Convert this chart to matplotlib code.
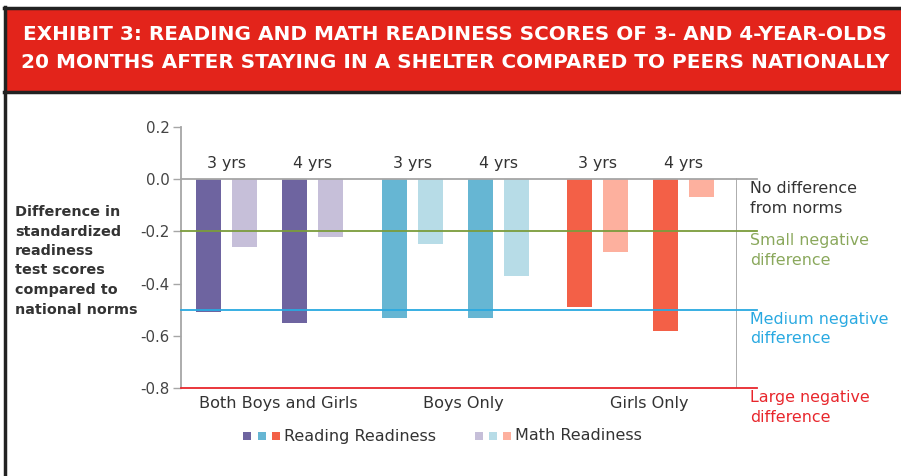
import matplotlib
matplotlib.use('Agg')
import matplotlib.pyplot as plt
from matplotlib.patches import Rectangle
import numpy as np

plt.rcParams['font.family'] = ['DejaVu Sans']

# data
groups = ['Both Boys and Girls', 'Boys Only', 'Girls Only']
ages = ['3 yrs', '4 yrs']
reading = [[-0.51, -0.55], [-0.53, -0.53], [-0.49, -0.58]]
math_scores = [[-0.26, -0.22], [-0.25, -0.37], [-0.28, -0.07]]
reading_colors = ['#6e64a0', '#66b6d3', '#f36047']
math_colors = ['#c6bfd9', '#b7dce7', '#fdb09e']
ref_levels = [0.0, -0.2, -0.5, -0.8]
ref_labels = ['No difference\nfrom norms', 'Small negative\ndifference',
              'Medium negative\ndifference', 'Large negative\ndifference']
ref_colors = ['#a6a6a6', '#7b9c3c', '#29a9e1', '#e8262c']
ref_text_colors = ['#333333', '#8aa85c', '#29a9e1', '#e8262c']
yticks = [0.2, 0.0, -0.2, -0.4, -0.6, -0.8]

fig = plt.figure(figsize=(9.01, 4.76), dpi=100)

# header band and frame
fig.patches.append(Rectangle((4/901, 1-92/476), 1, 84/476, transform=fig.transFigure,
                             facecolor='#e3241b', edgecolor='none'))
fig.add_artist(plt.Line2D([4/901, 1], [1-7.5/476]*2, color='#222222', lw=2.5))
fig.add_artist(plt.Line2D([4/901, 1], [1-92/476]*2, color='#222222', lw=2.5))
fig.add_artist(plt.Line2D([5/901]*2, [0, 1-7/476], color='#222222', lw=2.5))
fig.text(455/901, 1-35/476, 'EXHIBIT 3: READING AND MATH READINESS SCORES OF 3- AND 4-YEAR-OLDS',
         color='white', fontsize=14.4, fontweight='bold', ha='center', va='center')
fig.text(455/901, 1-62/476, '20 MONTHS AFTER STAYING IN A SHELTER COMPARED TO PEERS NATIONALLY',
         color='white', fontsize=14.4, fontweight='bold', ha='center', va='center')

ax = fig.add_axes([181/901, 1-388/476, 556/901, 261/476])

width = 0.135
pair_off = 0.232
bar_off = 0.097
for g in range(len(groups)):
    for a in range(len(ages)):
        xc = g + (a - 0.5) * 2 * pair_off
        ax.bar(xc - bar_off, reading[g][a], width, color=reading_colors[g])
        ax.bar(xc + bar_off, math_scores[g][a], width, color=math_colors[g])
        ax.text(xc, 0.06, ages[a], ha='center', va='center', fontsize=11.3, color='#333333')
    ax.text(g + 0.045, -0.86, groups[g], ha='center', va='center', fontsize=11.6, color='#333333')

# reference lines reaching past the plot
for lvl, lab, c, tc in zip(ref_levels, ref_labels, ref_colors, ref_text_colors):
    ax.axhline(lvl, xmin=0, xmax=1.036, color=c, lw=1.3, clip_on=False, zorder=3)
    ax.text(1.024, lvl - 0.008, lab, transform=ax.get_yaxis_transform(), ha='left', va='top',
            fontsize=11.4, color=tc, linespacing=1.38)

ax.axvline(2.52, ymin=0, ymax=0.8 / 1.0, color='#a6a6a6', lw=1.3)

ax.set_xlim(-0.48, 2.52)
ax.set_ylim(-0.8, 0.2)
ax.set_yticks(yticks)
ax.set_yticklabels(['%.1f' % t for t in yticks], fontsize=10.8, color='#444444')
ax.set_xticks([])
for s in ['top', 'right', 'bottom']:
    ax.spines[s].set_visible(False)
ax.spines['left'].set_color('#a6a6a6')
ax.spines['left'].set_linewidth(1.3)
ax.tick_params(axis='y', length=6, color='#a6a6a6', width=1.0, pad=2)

fig.text(15/901, 1-205/476, 'Difference in\nstandardized\nreadiness\ntest scores\ncompared to\nnational norms',
         ha='left', va='top', fontsize=10.4, fontweight='bold', color='#333333', linespacing=1.5)

# legend drawn as squares + text
sq = 8 / 901
ly = 1 - 436/476
for i, c in enumerate(reading_colors):
    fig.patches.append(Rectangle((243/901 + i*14.5/901, ly - 4/476), sq, 8/476,
                                 transform=fig.transFigure, facecolor=c, edgecolor='none'))
fig.text(284/901, ly, 'Reading Readiness', ha='left', va='center', fontsize=11.5, color='#333333')
for i, c in enumerate(math_colors):
    fig.patches.append(Rectangle((475/901 + i*14/901, ly - 4/476), sq, 8/476,
                                 transform=fig.transFigure, facecolor=c, edgecolor='none'))
fig.text(515/901, ly, 'Math Readiness', ha='left', va='center', fontsize=11.5, color='#333333')

fig.savefig('out.png', dpi=100)
